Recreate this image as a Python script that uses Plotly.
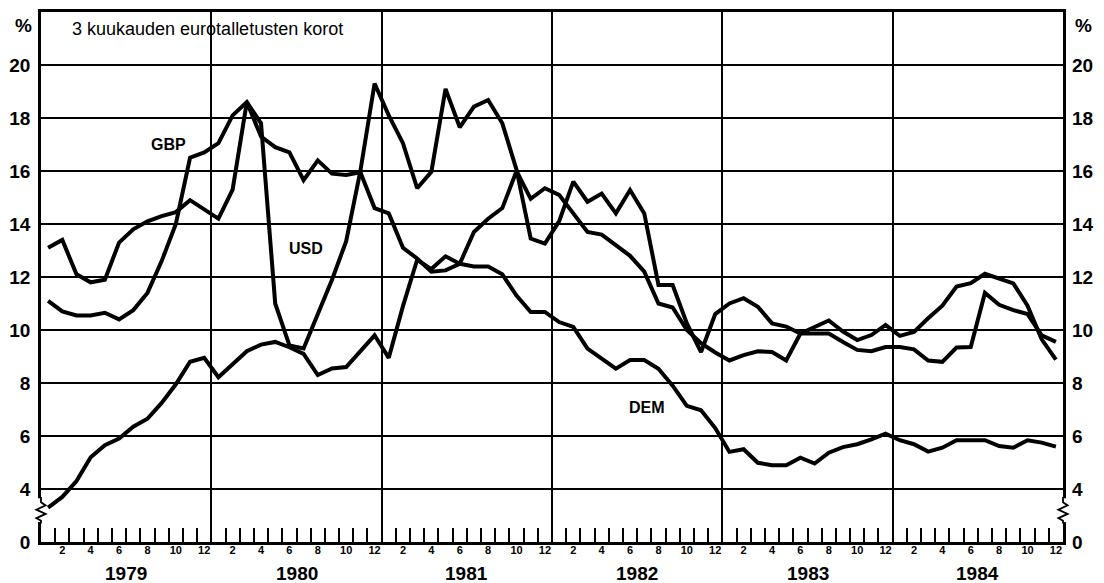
import plotly.graph_objects as go

# 3 kuukauden eurotalletusten korot, kuukausittain 1979-1984
years = ["1979", "1980", "1981", "1982", "1983", "1984"]
month_labels = ["2", "4", "6", "8", "10", "12"]

gbp = [13.1, 13.4, 12.1, 11.8, 11.9, 13.3, 13.8, 14.1, 14.3, 14.45, 14.9, 14.55,
       14.2, 15.3, 18.6, 17.3, 16.9, 16.7, 15.65, 16.4, 15.9, 15.85, 15.95, 14.6,
       14.4, 13.1, 12.7, 12.2, 12.25, 12.5, 13.7, 14.2, 14.6, 16.0, 14.95, 15.35,
       15.1, 14.4, 13.7, 13.6, 13.2, 12.8, 12.2, 11.0, 10.85, 10.0, 9.5, 9.15,
       8.85, 9.05, 9.2, 9.17, 8.85, 9.87, 9.87, 9.87, 9.55, 9.25, 9.2, 9.36,
       9.36, 9.27, 8.85, 8.8, 9.34, 9.36, 11.4, 10.95, 10.75, 10.6, 9.8, 9.55]

usd = [11.1, 10.7, 10.55, 10.55, 10.65, 10.4, 10.75, 11.4, 12.6, 14.0, 16.5, 16.7,
       17.05, 18.1, 18.6, 17.8, 11.0, 9.42, 9.3, 10.6, 11.9, 13.35, 16.0, 19.3,
       18.1, 17.05, 15.35, 15.97, 19.1, 17.65, 18.43, 18.68, 17.8, 16.05, 13.45, 13.26,
       14.1, 15.6, 14.84, 15.15, 14.4, 15.28, 14.4, 11.7, 11.7, 10.25, 9.17, 10.6,
       11.0, 11.2, 10.88, 10.25, 10.13, 9.87, 10.13, 10.36, 9.94, 9.62, 9.81, 10.19,
       9.78, 9.93, 10.44, 10.92, 11.64, 11.77, 12.12, 11.95, 11.76, 10.92, 9.65, 8.88]

dem = [3.3, 3.7, 4.3, 5.2, 5.65, 5.9, 6.35, 6.65, 7.25, 7.95, 8.8, 8.95,
       8.22, 8.7, 9.2, 9.45, 9.55, 9.35, 9.1, 8.3, 8.55, 8.6, 9.2, 9.8,
       8.95, 10.9, 12.65, 12.3, 12.78, 12.5, 12.4, 12.4, 12.1, 11.3, 10.68, 10.68,
       10.3, 10.12, 9.3, 8.9, 8.54, 8.87, 8.87, 8.54, 7.9, 7.14, 6.97, 6.3,
       5.4, 5.5, 4.99, 4.9, 4.9, 5.18, 4.96, 5.37, 5.58, 5.69, 5.87, 6.09,
       5.84, 5.69, 5.41, 5.56, 5.84, 5.84, 5.84, 5.62, 5.56, 5.84, 5.75, 5.6]

y_ticks = [2, 4, 6, 8, 10, 12, 14, 16, 18, 20]
y_text = ["0", "4", "6", "8", "10", "12", "14", "16", "18", "20"]

n = len(years) * 12
xs = [i + 0.5 for i in range(n)]

FONT = "Liberation Sans, Arial, Helvetica, sans-serif"
bold = dict(family=FONT, color="black", weight="bold")

fig = go.Figure()
for name, vals in [("GBP", gbp), ("USD", usd), ("DEM", dem)]:
    fig.add_trace(go.Scatter(x=xs, y=vals, name=name, mode="lines",
                             line=dict(color="black", width=4),
                             line_shape="linear"))

# invisible traces to make the helper axes exist
fig.add_trace(go.Scatter(x=xs, y=dem, xaxis="x2", yaxis="y2", mode="lines",
                         line=dict(width=0), opacity=0, hoverinfo="skip"))
fig.add_trace(go.Scatter(x=xs, y=dem, xaxis="x3", yaxis="y", mode="lines",
                         line=dict(width=0), opacity=0, hoverinfo="skip"))

month_pos = [12 * k + m - 0.5 for k in range(len(years)) for m in (2, 4, 6, 8, 10, 12)]
month_txt = month_labels * len(years)

# the page body adds an 8px margin at left/top
fig.update_layout(
    width=1096, height=575,
    margin=dict(l=33, r=41, t=4, b=41),
    paper_bgcolor="white", plot_bgcolor="white",
    showlegend=False,
    xaxis=dict(range=[0, n], tickvals=list(range(1, n)), ticks="inside",
               ticklen=14, tickwidth=1.6, tickcolor="black",
               showticklabels=False, showgrid=False, zeroline=False,
               showline=True, linewidth=2.5, linecolor="black", mirror=True,
               automargin=False),
    xaxis2=dict(range=[0, n], overlaying="x", anchor="y", side="bottom",
                tickvals=month_pos, ticktext=month_txt, ticks="",
                tickfont=dict(size=11, **bold), showgrid=False,
                zeroline=False, showline=False, automargin=False),
    xaxis3=dict(range=[0, n], overlaying="x", anchor="y", side="bottom",
                tickvals=[12 * k for k in range(1, len(years))],
                showticklabels=False, ticks="", showgrid=True,
                gridcolor="black", gridwidth=2, zeroline=False, showline=False,
                automargin=False),
    yaxis=dict(range=[2, 22], tickvals=y_ticks, ticktext=y_text, ticks="",
               tickfont=dict(size=19, **bold), ticklabelstandoff=4,
               showgrid=True, gridcolor="black", gridwidth=2, zeroline=False,
               showline=True, linewidth=2.5, linecolor="black", mirror=True,
               automargin=False),
    yaxis2=dict(range=[2, 22], overlaying="y", side="right", anchor="x",
                tickvals=y_ticks, ticktext=y_text, ticks="",
                tickfont=dict(size=19, **bold), ticklabelstandoff=8,
                showgrid=False, zeroline=False, showline=False,
                automargin=False),
)

ann = [
    dict(text="%", x=-0.017, y=0.975, xref="paper", yref="paper",
         font=dict(size=19, **bold)),
    dict(text="%", x=1.0196, y=0.975, xref="paper", yref="paper",
         font=dict(size=19, **bold)),
    dict(text="3 kuukauden eurotalletusten korot", x=0.028, y=0.968,
         xref="paper", yref="paper", xanchor="left",
         font=dict(family=FONT, size=18, color="black")),
    dict(text="GBP", x=8.95, y=17.0, font=dict(size=16, **bold)),
    dict(text="USD", x=18.7, y=13.08, font=dict(size=16, **bold)),
    dict(text="DEM", x=42.7, y=7.08, font=dict(size=16, **bold)),
]
for k, yr in enumerate(years):
    ann.append(dict(text=yr, x=12 * k + 6, y=-0.0585, xref="x", yref="paper",
                    font=dict(size=19, **bold)))
for a in ann:
    a.setdefault("showarrow", False)
    a.setdefault("xanchor", "center")
    a.setdefault("yanchor", "middle")
fig.update_layout(annotations=ann)

# axis break marks on both sides
shapes = []
for xp in (0.0, 1.0):
    shapes.append(dict(type="rect", xref="paper", yref="y", x0=xp - 0.004,
                       x1=xp + 0.003, y0=2.75, y1=3.65, fillcolor="white",
                       line=dict(width=0), layer="above"))
    d = 0.0045
    path = (f"M{xp},3.7 L{xp},3.5 L{xp + d},3.38 L{xp - d},3.22 "
            f"L{xp + d},3.06 L{xp - d},2.9 L{xp},2.8 L{xp},2.7")
    shapes.append(dict(type="path", xref="paper", yref="y", path=path,
                       line=dict(color="black", width=1.8), layer="above"))
fig.update_layout(shapes=shapes)

fig.write_html("out.html")
